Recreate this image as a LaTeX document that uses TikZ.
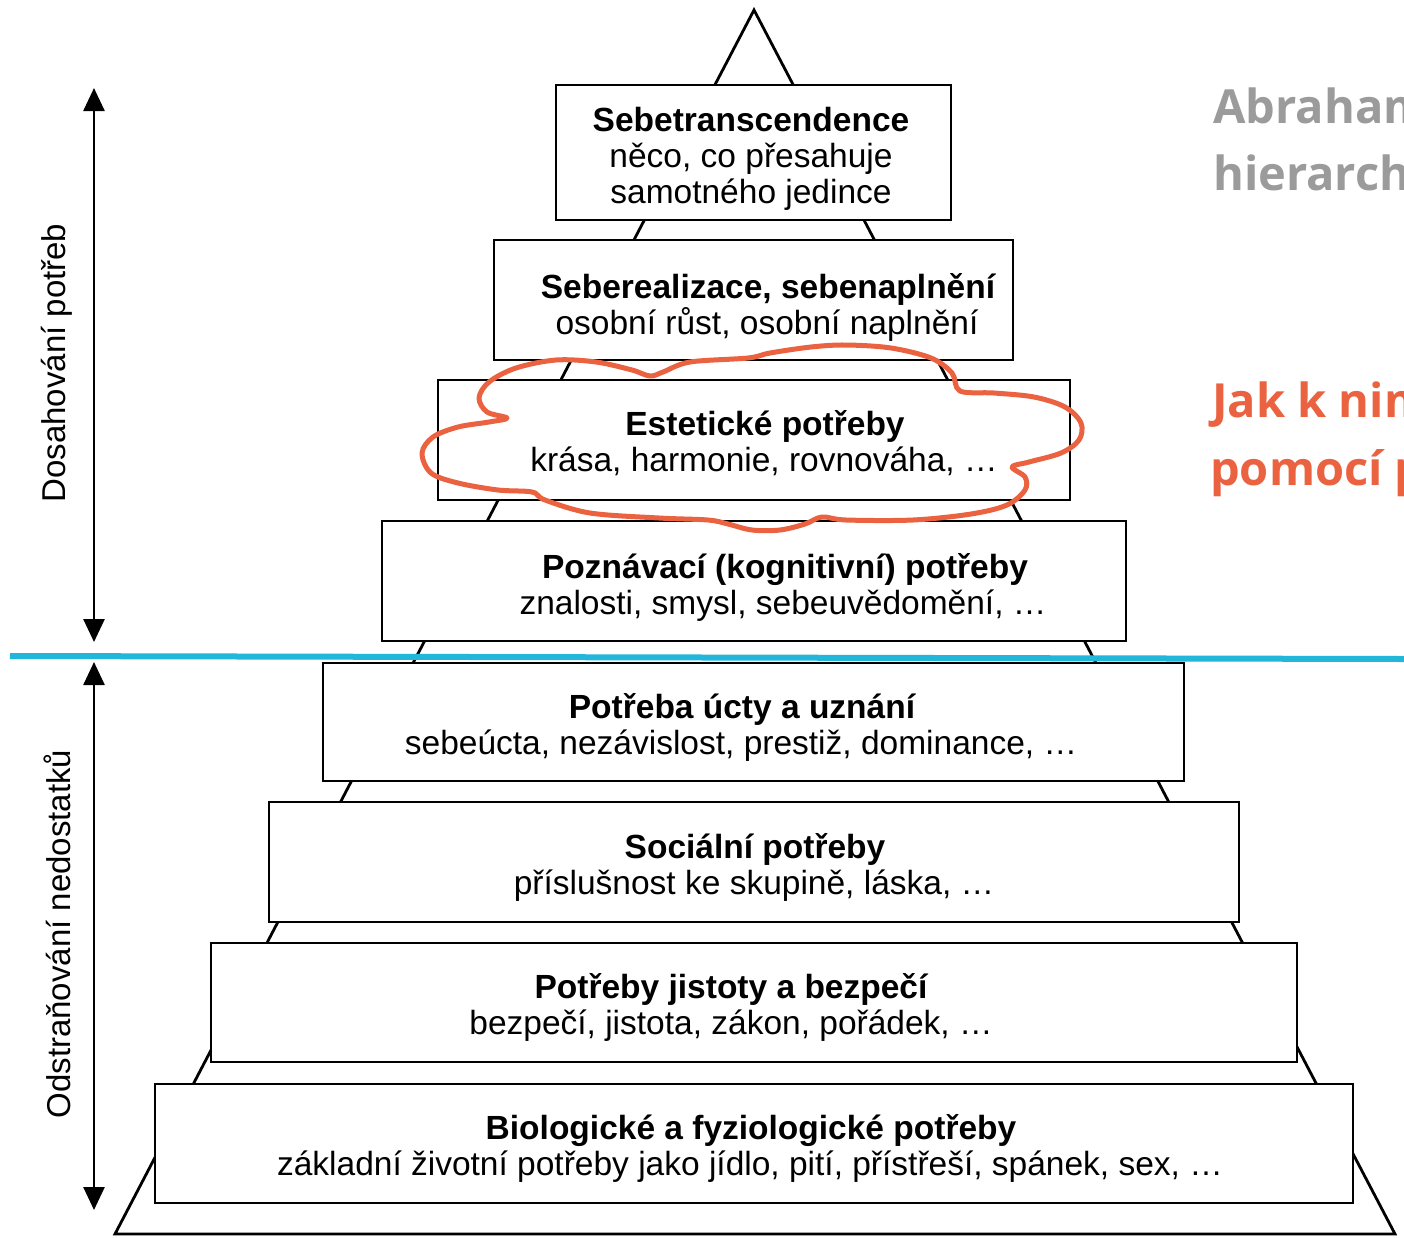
\documentclass[tikz,border=0pt]{standalone}
\usepackage{fontspec}
\setmainfont{Liberation Sans}
\newfontfamily\opensans{Open Sans}
\usetikzlibrary{arrows.meta}
\definecolor{cyanline}{HTML}{22B6DA}
\definecolor{orng}{HTML}{EA6240}
\definecolor{graytxt}{HTML}{9B9B9B}
\begin{document}
\begin{tikzpicture}[x=1pt,y=-1pt,
  layerbox/.style={draw=black,line width=2.8pt,fill=white,inner sep=0pt,outer sep=0pt},
  ttl/.style={inner sep=0pt,anchor=base,font=\fontsize{33.5}{37}\selectfont\bfseries},
  sub/.style={inner sep=0pt,anchor=base,font=\fontsize{33.5}{37}\selectfont},
  sidelbl/.style={inner sep=0pt,rotate=90,font=\fontsize{33}{37}\selectfont},
  sidearrow/.style={line width=2.6pt,{Triangle[width=21pt,length=23pt]}-{Triangle[width=21pt,length=23pt]}},
  bigtxt/.style={inner sep=0pt,anchor=base west,font=\opensans\bfseries\fontsize{47}{56}\selectfont}]
\clip (0,0) rectangle (1404,1237);
\fill[white] (0,0) rectangle (1404,1237);
% pyramid outline
\coordinate (apex) at (754,10);
\coordinate (bl) at (115,1234);
\coordinate (br) at (1395,1234);
\draw[line width=2.8pt,line join=miter] (apex) -- (br) -- (bl) -- cycle;
% layer boxes
\node[layerbox,minimum width=395pt,minimum height=135pt] (b1) at (753.5,152.5) {};
\node[layerbox,minimum width=519pt,minimum height=120pt] (b2) at (753.5,300) {};
\node[layerbox,minimum width=632pt,minimum height=120pt] (b3) at (754,440) {};
\node[layerbox,minimum width=744pt,minimum height=120pt] (b4) at (754,581) {};
\node[layerbox,minimum width=861pt,minimum height=118pt] (b5) at (753.5,722) {};
\node[layerbox,minimum width=970pt,minimum height=120pt] (b6) at (754,862) {};
\node[layerbox,minimum width=1086pt,minimum height=119pt] (b7) at (754,1002.5) {};
\node[layerbox,minimum width=1198pt,minimum height=119pt] (b8) at (754,1143.5) {};
% texts
\node[ttl] (t1) at (751,131) {Sebetranscendence};
\node[sub] (s1a) at (751,167) {něco, co přesahuje};
\node[sub] (s1b) at (751,203) {samotného jedince};
\node[ttl] (t2) at (768,298) {Seberealizace, sebenaplnění};
\node[sub] (s2) at (767,334) {osobní růst, osobní naplnění};
\node[ttl] (t3) at (765,435) {Estetické potřeby};
\node[sub] (s3) at (764,471) {krása, harmonie, rovnováha, …};
\node[ttl] (t4) at (785,578) {Poznávací (kognitivní) potřeby};
\node[sub] (s4) at (783,614) {znalosti, smysl, sebeuvědomění, …};
\node[ttl] (t5) at (742,718) {Potřeba úcty a uznání};
\node[sub] (s5) at (741,754) {sebeúcta, nezávislost, prestiž, dominance, …};
\node[ttl] (t6) at (755,858) {Sociální potřeby};
\node[sub] (s6) at (754,894) {příslušnost ke skupině, láska, …};
\node[ttl] (t7) at (731,998) {Potřeby jistoty a bezpečí};
\node[sub] (s7) at (731,1034) {bezpečí, jistota, zákon, pořádek, …};
\node[ttl] (t8) at (751,1139) {Biologické a fyziologické potřeby};
\node[sub] (s8) at (750,1175) {základní životní potřeby jako jídlo, pití, přístřeší, spánek, sex, …};
% cloud highlight
\draw[orng,line width=5pt,line join=round] plot[smooth cycle,tension=0.55] coordinates {
 (422,453) (433,437) (458,427) (489,422) (507,418) (487,412) (479,398) (489,382)
 (516,368) (556,360) (596,362) (632,370) (650,376) (663,372) (690,362) (748,358)
 (770,353) (811,347) (846,345) (891,348) (931,358) (952,373) (960,391) (994,393)
 (1034,397) (1065,407) (1081,423) (1079,440) (1061,453) (1029,462) (1012,467)
 (1025,477) (1025,490) (1007,505) (971,514) (913,520) (846,520) (822,517)
 (805,524) (780,530) (752,530) (728,524) (708,520) (659,518) (590,513) (545,500)
 (532,492) (498,490) (458,483) (431,473)};
% divider line
\coordinate (divL) at (10,656);
\coordinate (divR) at (1404,659);
\draw[cyanline,line width=6pt] (divL) -- (divR);
% side arrows
\coordinate (ua1) at (94,88);
\coordinate (ua2) at (94,642);
\coordinate (la1) at (94,662);
\coordinate (la2) at (94,1210);
\draw[sidearrow] (ua1) -- (ua2);
\draw[sidearrow] (la1) -- (la2);
\node[sidelbl] (lblup) at (57,363) {Dosahování potřeb};
\node[sidelbl] (lbllow) at (57,934) {Odstraňování nedostatků};
% right texts
\node[bigtxt,text=graytxt] (g1) at (1213,123) {Abraham};
\node[bigtxt,text=graytxt] (g2) at (1213,190) {hierarch};
\node[bigtxt,text=orng] (o1) at (1212,417) {Jak k nim};
\node[bigtxt,text=orng] (o2) at (1210,485) {pomocí p};
\end{tikzpicture}
\end{document}
